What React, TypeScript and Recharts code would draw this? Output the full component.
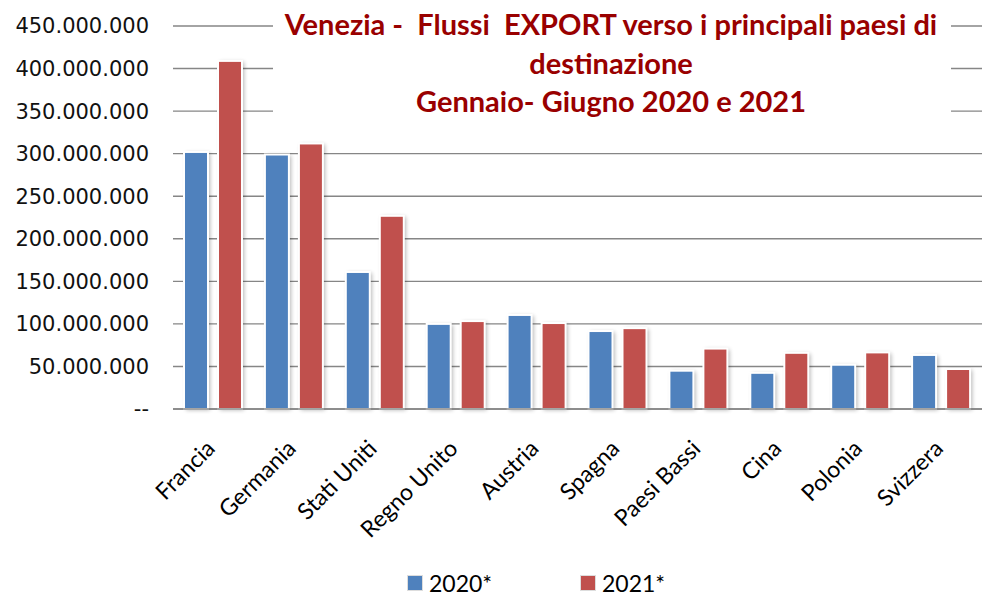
import React from "react";
import { BarChart, Bar, XAxis, YAxis, CartesianGrid } from "recharts";

const countries = [
  "Francia", "Germania", "Stati Uniti", "Regno Unito", "Austria",
  "Spagna", "Paesi Bassi", "Cina", "Polonia", "Svizzera",
];
const export2020 = [
  302000000, 299000000, 161000000, 100000000, 110500000,
  91600000, 45000000, 42500000, 52000000, 63500000,
];
const export2021 = [
  409000000, 312000000, 227000000, 103300000, 101000000,
  95000000, 71000000, 66000000, 66500000, 47000000,
];
const yTicks = [0, 50000000, 100000000, 150000000, 200000000, 250000000, 300000000, 350000000, 400000000, 450000000];
const titleLines = [
  "Venezia -  Flussi  EXPORT verso i principali paesi di",
  "destinazione",
  "Gennaio- Giugno 2020 e 2021",
];

const BLUE = "#4F81BD";
const RED = "#C0504D";
const GRID = "#868686";
const TITLE = "#990000";

const data = countries.map((c, i) => ({
  name: c,
  y2020: export2020[i],
  y2021: export2021[i],
}));

function fmtTick(v: number) {
  if (v === 0) return "--";
  return v.toLocaleString("it-IT").replace(/,/g, ".");
}

function CategoryTick(props: any) {
  const { x, y, payload } = props;
  const ax = x + 3;
  const ay = y + 33;
  return (
    <text
      x={ax}
      y={ay}
      textAnchor="end"
      transform={`rotate(-45 ${ax} ${ay})`}
      fontFamily="Lato, sans-serif"
      fontSize={23}
      fill="#000"
    >
      {payload.value}
    </text>
  );
}

function ShadowBar(props: any) {
  const { x, y, width, height, fill } = props;
  if (!height || height <= 0) return null;
  return (
    <g>
      <rect x={x} y={y} width={width} height={height} fill="#000" filter="url(#barShadow)" />
      <rect x={x} y={y} width={width} height={height} fill={fill} stroke="#fff" strokeWidth={2} />
    </g>
  );
}

export default function App() {
  return (
    <div style={{ position: "absolute", left: 0, top: 0, width: 982, height: 596, background: "#fff" }}>
      <BarChart
        width={982}
        height={596}
        data={data}
        margin={{ top: 26, right: 0, left: 0, bottom: 0 }}
        barCategoryGap={11}
        barGap={10}
      >
        <defs>
          <filter id="barShadow" x="-30%" y="-10%" width="160%" height="130%">
            <feGaussianBlur stdDeviation="2.2" />
            <feOffset dx="2" dy="1" result="b" />
            <feComponentTransfer>
              <feFuncA type="linear" slope="0.3" />
            </feComponentTransfer>
          </filter>
        </defs>
        <CartesianGrid vertical={false} stroke={GRID} strokeWidth={1.4} />
        <XAxis
          dataKey="name"
          height={187}
          interval={0}
          tickLine={false}
          axisLine={{ stroke: GRID, strokeWidth: 1.4 }}
          tick={<CategoryTick />}
        />
        <YAxis
          width={173}
          domain={[0, 450000000]}
          ticks={yTicks}
          tickFormatter={fmtTick}
          tickLine={false}
          axisLine={false}
          tickMargin={18}
          tick={{ fontFamily: "DejaVu Sans, Verdana, sans-serif", fontSize: 21, fill: "#111" }}
        />
        <Bar dataKey="y2020" fill={BLUE} shape={<ShadowBar />} isAnimationActive={false} />
        <Bar dataKey="y2021" fill={RED} shape={<ShadowBar />} isAnimationActive={false} />
      </BarChart>

      <svg
        width={678}
        height={120}
        style={{ position: "absolute", left: 273, top: 0, background: "#fff" }}
      >
        {titleLines.map((t, i) => (
          <text
            key={i}
            x={338}
            y={35 + i * 38.5}
            textAnchor="middle"
            fontFamily="Lato, sans-serif"
            fontWeight="bold"
            fontSize={29}
            fill={TITLE}
            style={{ whiteSpace: "pre" }}
          >
            {t}
          </text>
        ))}
      </svg>

      <div
        style={{
          position: "absolute",
          top: 570,
          left: 0,
          width: 982,
          height: 26,
          fontFamily: "Lato, sans-serif",
          fontSize: 23,
        }}
      >
        {[
          { label: "2020*", color: BLUE, left: 407 },
          { label: "2021*", color: RED, left: 580 },
        ].map((it) => (
          <div key={it.label} style={{ position: "absolute", left: it.left, top: 0, display: "flex", alignItems: "center", height: 26 }}>
            <span style={{ width: 14, height: 14, background: it.color, display: "inline-block", marginRight: 6, border: "1px solid #ddd" }} />
            <span>{it.label}</span>
          </div>
        ))}
      </div>
    </div>
  );
}
